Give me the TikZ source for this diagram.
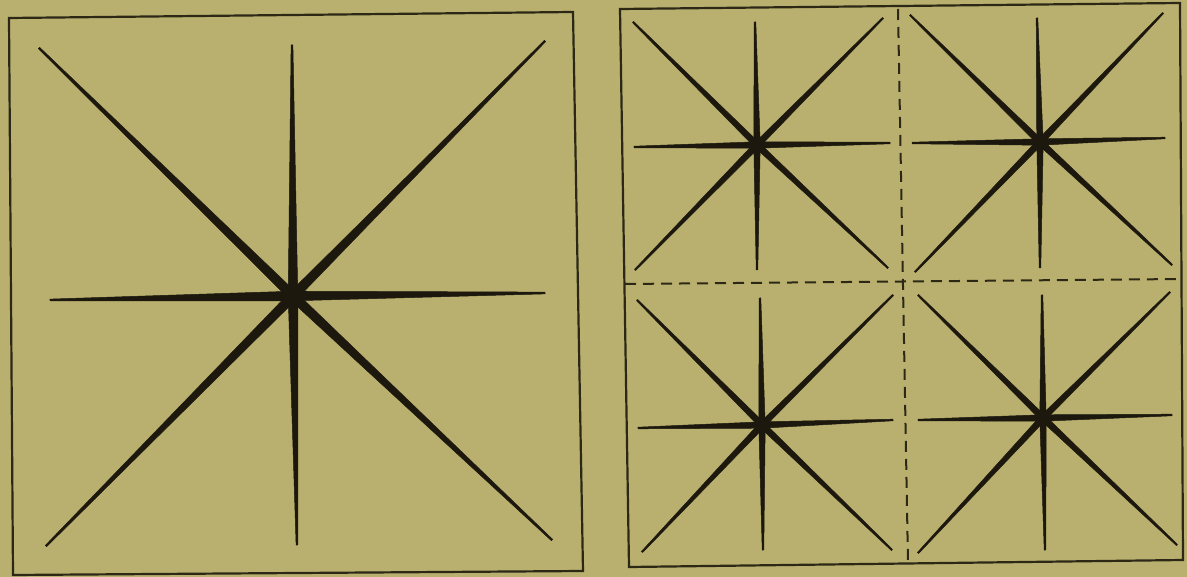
\documentclass[tikz,border=0pt]{standalone}
\usetikzlibrary{calc}
\definecolor{paper}{RGB}{185,176,111}
\definecolor{ink}{RGB}{28,24,14}
\definecolor{frameink}{RGB}{45,40,22}
\tikzset{
  frameline/.style={draw=frameink,line width=2.2pt,line join=miter},
  dashline/.style={draw=frameink,line width=2pt,dash pattern=on 11pt off 7pt},
  rayfill/.style={fill=ink,draw=ink,line width=0.5pt,line join=round}
}
% #1 centre, #2 tip, #3 half width at centre, #4 half width at tip
\newcommand\myray[4]{%
  \path[rayfill] ($(#1)!#3!90:(#2)$) -- ($(#2)!#4!-90:(#1)$) -- (#2) -- ($(#2)!#4!90:(#1)$) -- ($(#1)!#3!-90:(#2)$) -- cycle;}
\begin{document}
\begin{tikzpicture}[x=1pt,y=-1pt]
\fill[paper] (0,0) rectangle (1187,577);
\useasboundingbox (0,0) rectangle (1187,577);
% left frame
\draw[frameline] (9,18) -- (573,12) -- (583,571) -- (13,575) -- cycle;
% right frame
\draw[frameline] (620,9) -- (1180,3) -- (1183,560) -- (629,567) -- cycle;
\draw[dashline] (898,9) -- (908,563);
\draw[dashline] (625,284) -- (1182,279);
% big star
\coordinate (C0) at (293,296);
\foreach \x/\y in {292/45,297/545,50/300,545/293,39/48,545/41,46/546,552/540}{
  \coordinate (T) at (\x,\y);
  \myray{C0}{T}{4.8pt}{0.9pt}
}
\fill[ink] (C0) circle (9pt);
% small stars
\coordinate (C1) at (757,145);
\foreach \x/\y in {755/22,757/270,634/147,890/143,633/22,883/18,635/270,888/268}{
  \coordinate (T) at (\x,\y);
  \myray{C1}{T}{3.2pt}{0.8pt}
}
\fill[ink] (C1) circle (5.5pt);
\coordinate (C2) at (1040,142);
\foreach \x/\y in {1037/18,1040/268,912/143,1165/138,910/15,1163/13,915/272,1172/265}{
  \coordinate (T) at (\x,\y);
  \myray{C2}{T}{3.2pt}{0.8pt}
}
\fill[ink] (C2) circle (5.5pt);
\coordinate (C3) at (762,425);
\foreach \x/\y in {760/298,763/550,638/428,893/420,637/300,893/295,642/552,892/550}{
  \coordinate (T) at (\x,\y);
  \myray{C3}{T}{3.2pt}{0.8pt}
}
\fill[ink] (C3) circle (5.5pt);
\coordinate (C4) at (1043,418);
\foreach \x/\y in {1042/295,1045/550,918/420,1172/415,918/295,1170/292,918/553,1177/545}{
  \coordinate (T) at (\x,\y);
  \myray{C4}{T}{3.2pt}{0.8pt}
}
\fill[ink] (C4) circle (5.5pt);
\end{tikzpicture}
\end{document}
